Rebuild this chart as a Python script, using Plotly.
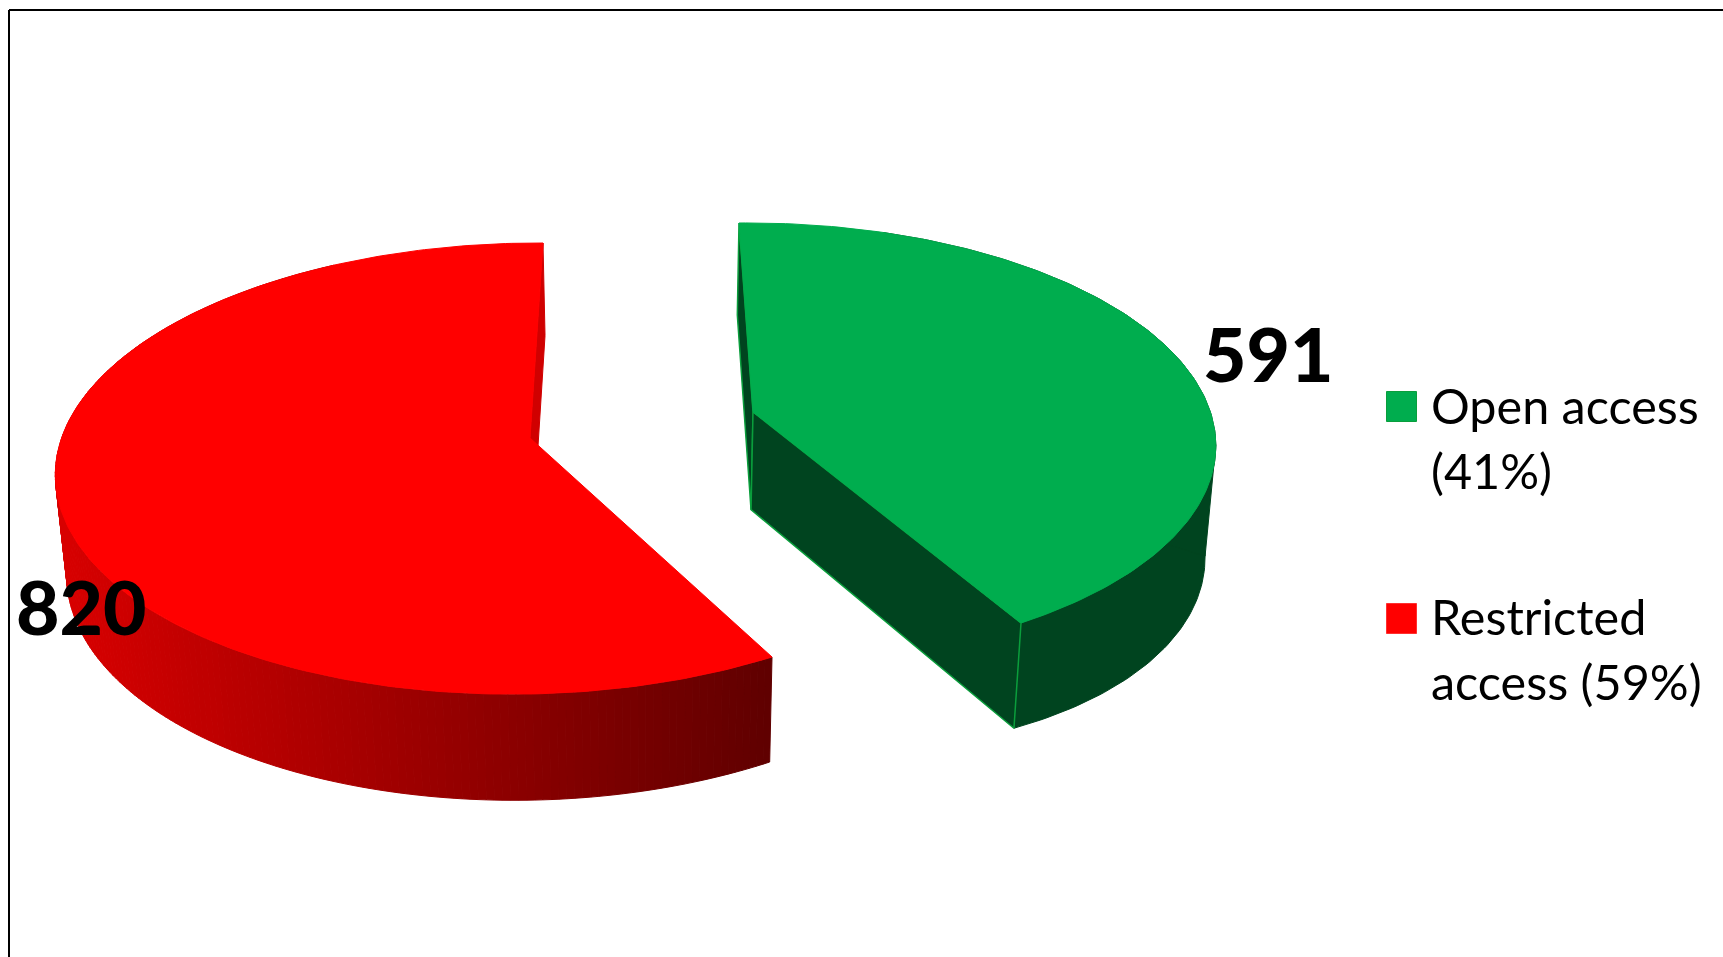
import numpy as np
import plotly.graph_objects as go

categories = ["Open access", "Restricted access"]
values = [591, 820]
legend_lines = [["Open access", "(41%)"], ["Restricted", "access (59%)"]]

W, H = 1723, 957
GREEN, GREEN_WALL, GREEN_EDGE = "#00AD4E", "#00441F", "#0A9E3C"
RED = "#FF0000"

sweep_open = 360.0 * values[0] / sum(values)


def homography(src, dst):
    A, b = [], []
    for (u, v), (x, y) in zip(src, dst):
        A.append([u, v, 1, 0, 0, 0, -u * x, -v * x]); b.append(x)
        A.append([0, 0, 0, u, v, 1, -u * y, -v * y]); b.append(y)
    return np.append(np.linalg.solve(np.array(A, float), np.array(b, float)), 1).reshape(3, 3)


def disc(deg):
    t = np.radians(deg)
    return np.sin(t), np.cos(t)


def project(M, u, v):
    w = M[2, 0] * u + M[2, 1] * v + M[2, 2]
    return (M[0, 0] * u + M[0, 1] * v + M[0, 2]) / w, (M[1, 0] * u + M[1, 1] * v + M[1, 2]) / w


def drop(x, y):
    return x + (650 - x) * 0.019, y + 92 + (y - 223) * 0.03 + 0.06 * np.maximum(x - 1000, 0)


# view of each exploded slice: disc centre + three rim anchors on screen
M_open = homography([(0, 0), disc(0), disc(sweep_open), disc(90)],
                    [(753, 412), (739, 223), (1021, 623), (1209, 408)])
M_rest = homography([(0, 0), disc(0), disc(sweep_open), disc(270)],
                    [(530, 438), (543, 243), (772, 657), (62, 437)])

fig = go.Figure()


def poly(x, y, fill, line=None, lw=1):
    fig.add_trace(go.Scatter(x=np.append(x, x[0]), y=np.append(y, y[0]), mode="lines", fill="toself",
                             fillcolor=fill, line=dict(color=line or fill, width=lw),
                             hoverinfo="skip", showlegend=False))


def wall(xa, ya, color, line=None, lw=1):
    xb, yb = drop(xa, ya)
    poly(np.concatenate([xa, xb[::-1]]), np.concatenate([ya, yb[::-1]]), color, line, lw)


# Restricted access slice
th = np.linspace(sweep_open, 360, 240)
rx, ry = project(M_rest, *disc(th))
cx, cy = project(M_rest, 0.0, 0.0)
wall(np.array([rx[-1], cx]), np.array([ry[-1], cy]), "#D00000")
for i in range(len(rx) - 1):
    if th[i] > 330:
        continue
    xm = 0.5 * (rx[i] + rx[i + 1])
    r = int(np.clip(216 - (xm - 60) * 120 / 712, 90, 216))
    wall(rx[i:i + 2], ry[i:i + 2], f"rgb({r},0,0)")
poly(np.concatenate([[cx], rx]), np.concatenate([[cy], ry]), RED)

# Open access slice
th = np.linspace(0, sweep_open, 160)
gx, gy = project(M_open, *disc(th))
cx, cy = project(M_open, 0.0, 0.0)
wall(np.array([gx[0], cx]), np.array([gy[0], cy]), GREEN_WALL, GREEN_EDGE, 1.5)
wall(gx[th > 20], gy[th > 20], GREEN_WALL, GREEN_WALL)
# silhouette between the rightmost points of the upper and lower rims
gbx, gby = drop(gx, gy)
top_i, bot_i = int(np.argmax(gx)), int(np.argmax(gbx))
poly(np.array([gx[top_i], gbx[bot_i], cx]), np.array([gy[top_i], gby[bot_i], cy]), GREEN_WALL)
wall(np.array([cx, gx[-1]]), np.array([cy, gy[-1]]), GREEN_WALL, GREEN_EDGE, 1.5)
poly(np.concatenate([[cx], gx]), np.concatenate([[cy], gy]), GREEN)

# legend swatches
fig.add_trace(go.Scatter(x=[1401.5, 1401.5], y=[406.5, 618.5], mode="markers",
                         marker=dict(symbol="square", size=30, color=[GREEN, RED],
                                     line=dict(color=["#0A9E3C", "#FF3030"], width=1)),
                         hoverinfo="skip", showlegend=False))

ann = []
for (x, y), v in zip([(1268, 353), (81.5, 606)], values):
    ann.append(dict(x=x, y=y, text=str(v), showarrow=False, xanchor="center", yanchor="middle",
                    font=dict(family="Lato", size=75, color="black", weight=900)))
for lines, ys in zip(legend_lines, [(405, 470), (616, 681)]):
    for t, y in zip(lines, ys):
        ann.append(dict(x=1429, y=y, text=t, showarrow=False, xanchor="left", yanchor="middle",
                        font=dict(family="Lato", size=48.5, color="black")))

fig.update_layout(
    width=W, height=H, margin=dict(l=0, r=0, t=0, b=0), paper_bgcolor="white", plot_bgcolor="white",
    xaxis=dict(range=[0, W], visible=False, fixedrange=True),
    yaxis=dict(range=[H, 0], visible=False, fixedrange=True),
    showlegend=False, annotations=ann,
    shapes=[dict(type="line", x0=9, x1=9, y0=10, y1=H, line=dict(color="black", width=2)),
            dict(type="line", x0=9, x1=W, y0=10, y1=10, line=dict(color="black", width=2))],
)
fig.write_html("out.html", post_script="document.body.style.margin='0';", config={"displayModeBar": False})
